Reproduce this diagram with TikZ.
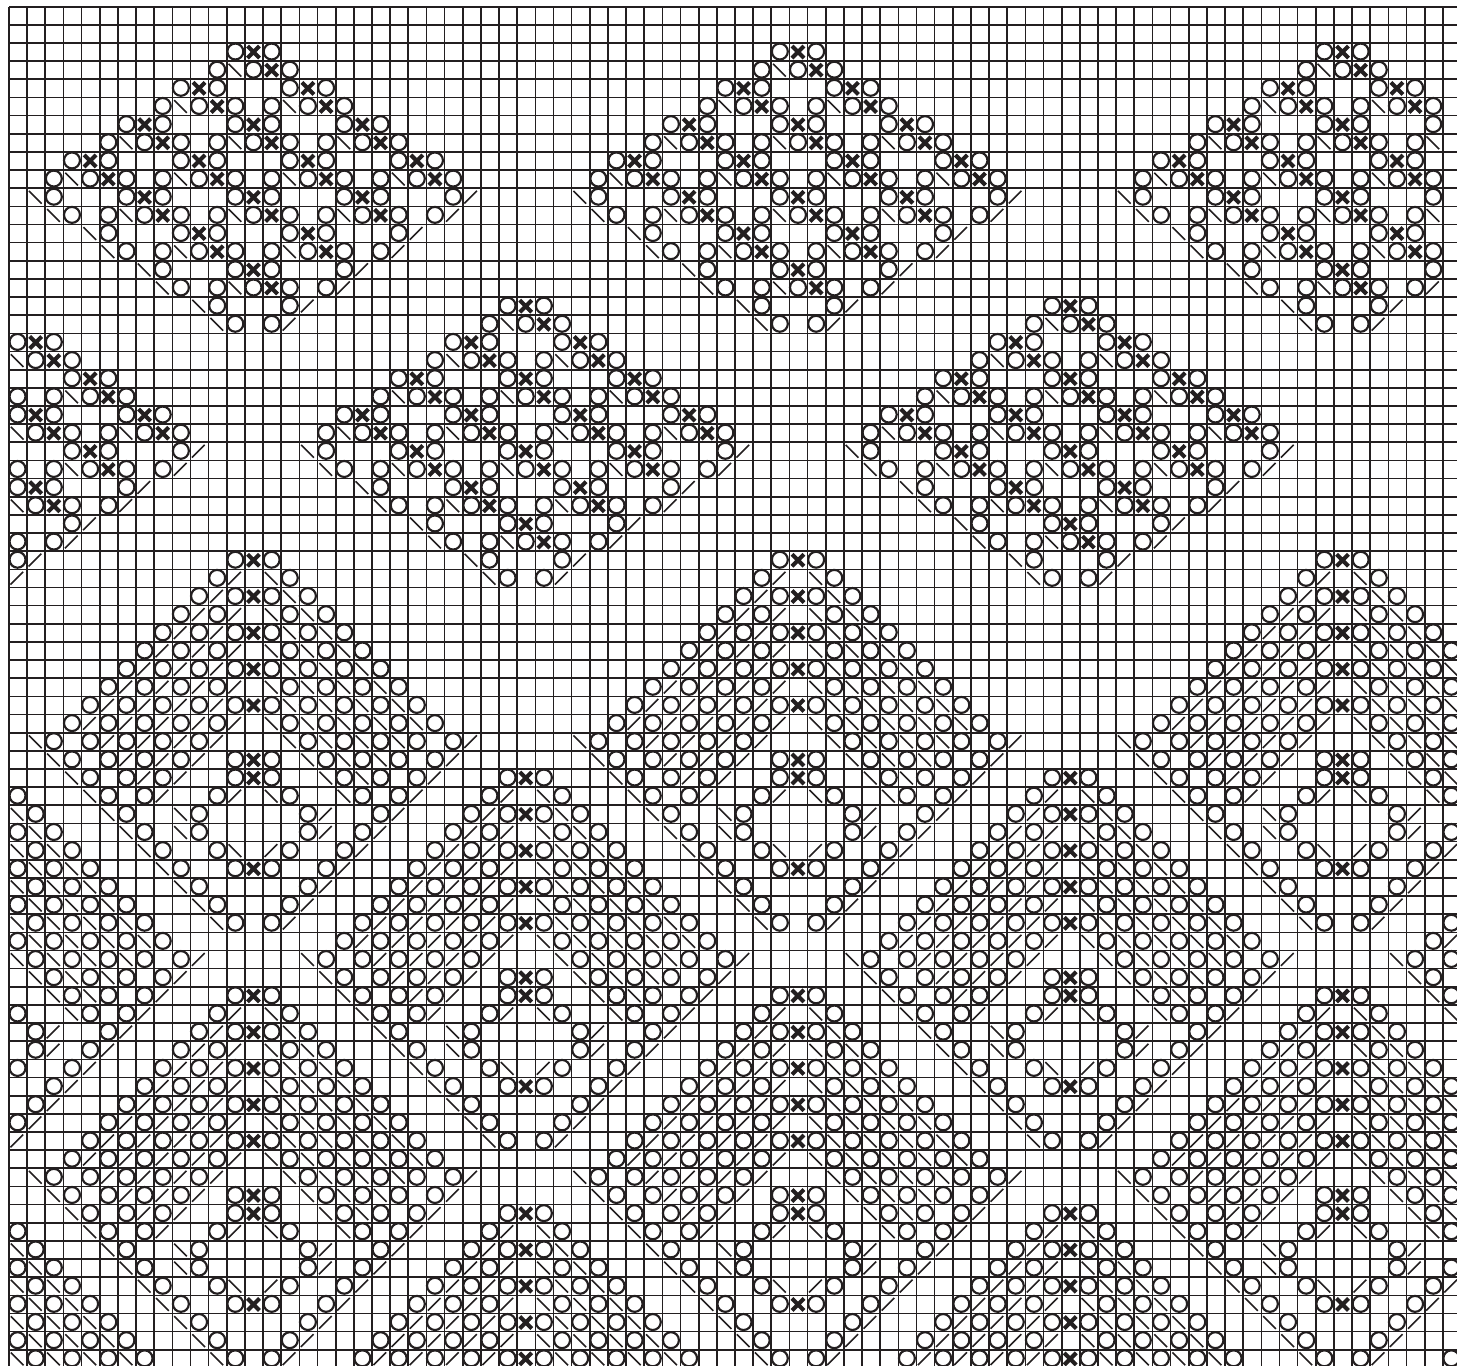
\documentclass[tikz,border=0pt]{standalone}
\definecolor{inkdark}{HTML}{231F20}
\tikzset{
  gridline/.style={draw=inkdark,line width=1.3pt},
  ringline/.style={draw=inkdark,line width=1.7pt},
  crossline/.style={draw=inkdark,line width=3.2pt},
  slashline/.style={draw=inkdark,line width=1.25pt}
}
\newcommand{\ringmark}[2]{\draw[ringline] (#1+.47,#2+.47) circle (.44);}
\newcommand{\crossmark}[2]{\draw[crossline] (#1+.14,#2+.17) -- (#1+.8,#2+.83) (#1+.8,#2+.17) -- (#1+.14,#2+.83);}
\newcommand{\backmark}[2]{\draw[slashline] (#1+.1,#2+.15) -- (#1+.8,#2+.85);}
\newcommand{\fwdmark}[2]{\draw[slashline] (#1+.08,#2+.84) -- (#1+.78,#2+.14);}
% ring, cross, ring over ring, back, ring, cross, ring
\newcommand{\twistunit}[2]{%
  \ringmark{#1-1}{#2}\crossmark{#1}{#2}\ringmark{#1+1}{#2}
  \ringmark{#1-2}{#2+1}\backmark{#1-1}{#2+1}\ringmark{#1}{#2+1}\crossmark{#1+1}{#2+1}\ringmark{#1+2}{#2+1}}
\newcommand{\crossrow}[2]{\ringmark{#1-1}{#2}\crossmark{#1}{#2}\ringmark{#1+1}{#2}}
% small crossed diamond
\newcommand{\diamondmotif}[2]{%
\begin{scope}[shift={(#1,#2)}]
\foreach \c/\r in {13/0,10/2,16/2,7/4,13/4,19/4,4/6,10/6,16/6,22/6,7/8,13/8,19/8,10/10,16/10,13/12}
  {\twistunit{\c}{\r}}
\foreach \c/\r in {1/8,2/9,4/10,5/11,7/12,8/13,10/14,11/15}
  {\backmark{\c}{\r}\ringmark{\c+1}{\r}}
\foreach \c/\r in {24/8,23/9,21/10,20/11,18/12,17/13,15/14,14/15}
  {\ringmark{\c}{\r}\fwdmark{\c+1}{\r}}
\end{scope}}
% large lace diamond
\newcommand{\lacemotif}[2]{%
\begin{scope}[shift={(#1,#2)}]
\foreach \r in {0,2,4,6,8,11,12,17}
  {\crossrow{13}{\r}}
\foreach \r/\lst in {1/{11},2/{10},3/{9,11},4/{8,10},5/{7,9,11},6/{6,8,10},7/{5,7,9,11},8/{4,6,8,10},9/{3,5,7,9,11},
  10/{4,6,8,10,24},11/{5,7,9,23},12/{6,8,22},13/{7,11,21},14/{16,20},15/{16,19},16/{18},17/{17},18/{16},19/{15},20/{14}}
  {\foreach \c in \lst {\ringmark{\c}{\r}\fwdmark{\c+1}{\r}}}
\foreach \r/\lst in {1/{14},2/{15},3/{14,16},4/{15,17},5/{14,16,18},6/{15,17,19},7/{14,16,18,20},8/{15,17,19,21},9/{14,16,18,20,22},
  10/{1,15,17,19,21},11/{2,16,18,20},12/{3,17,19},13/{4,14,18},14/{5,9},15/{6,9},16/{7},17/{8},18/{9},19/{10},20/{11}}
  {\foreach \c in \lst {\backmark{\c}{\r}\ringmark{\c+1}{\r}}}
\ringmark{11}{16}\backmark{12}{16}\fwdmark{14}{16}\ringmark{15}{16}
\end{scope}}
\begin{document}
\begin{tikzpicture}[x=5mm,y=-5mm]
\useasboundingbox (-.496,-.369) rectangle (79.78,74.89);
\foreach \c in {0,...,79}
  {\draw[gridline] (\c,0) -- (\c,75);}
\foreach \r in {0,...,74}
  {\draw[gridline] (0,\r) -- (80,\r);}

% upper block
\begin{scope}
\clip (-.03,0) rectangle (79,75);
\foreach \c in {0,30,60}
  {\diamondmotif{\c}{2}}
\foreach \c in {15,45}
  {\diamondmotif{\c}{16}}
\end{scope}
\begin{scope}
\clip (-.03,18) rectangle (79,75);
\diamondmotif{-15}{16}
\end{scope}

% lower block
\begin{scope}
\clip (-.03,0) rectangle (81,76);
\foreach \r in {30,54}
  {\foreach \c in {0,30,60} {\lacemotif{\c}{\r}}}
\foreach \r in {42,66}
  {\foreach \c in {-15,15,45,75} {\lacemotif{\c}{\r}}}
\end{scope}
\end{tikzpicture}
\end{document}
